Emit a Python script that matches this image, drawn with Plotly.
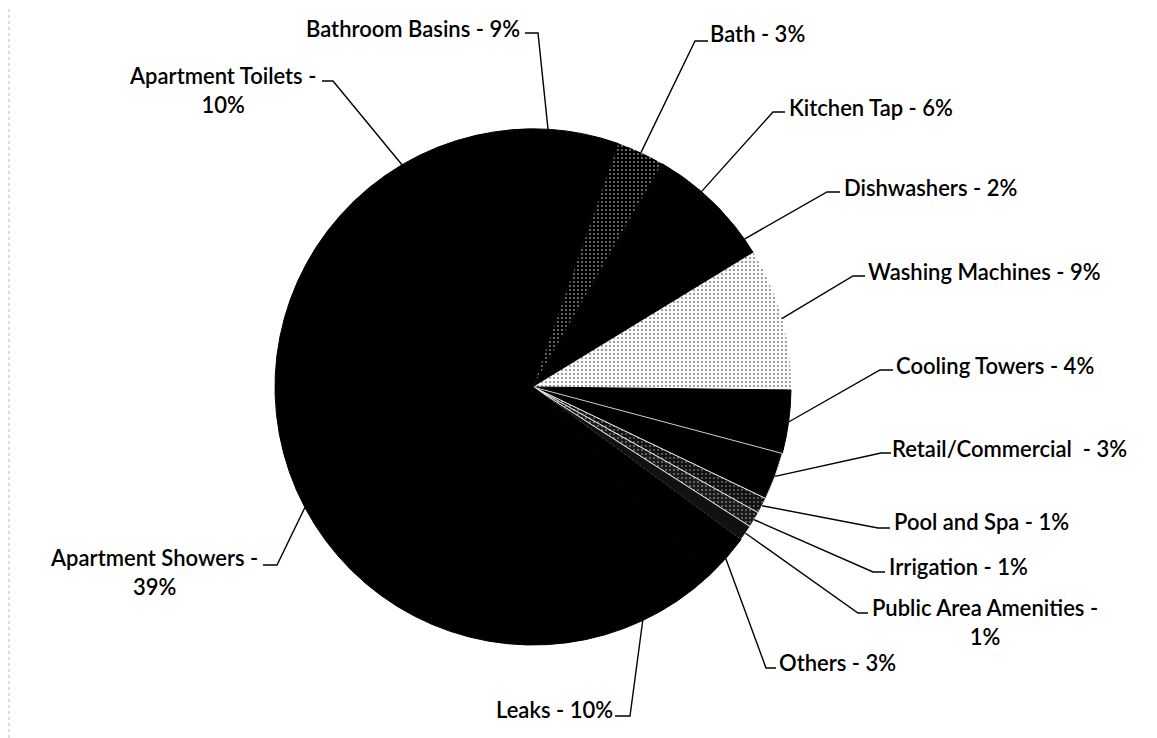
import math
import plotly.graph_objects as go

# ---------------- data ----------------
categories = ["Bathroom Basins", "Bath", "Kitchen Tap", "Dishwashers", "Washing Machines",
              "Cooling Towers", "Retail/Commercial", "Pool and Spa", "Irrigation",
              "Public Area Amenities", "Others", "Leaks", "Apartment Showers", "Apartment Toilets"]
values = [9, 3, 6, 2, 9, 4, 3, 1, 1, 1, 3, 10, 39, 10]
label_texts = ["Bathroom Basins - 9%", "Bath - 3%", "Kitchen Tap - 6%", "Dishwashers - 2%",
               "Washing Machines - 9%", "Cooling Towers - 4%", "Retail/Commercial  - 3%",
               "Pool and Spa - 1%", "Irrigation - 1%", "Public Area Amenities -<br>1%",
               "Others - 3%", "Leaks - 10%", "Apartment Showers -<br>39%", "Apartment Toilets -<br>10%"]

# ---------------- styles / layout ----------------
OFF = 8                             # page body margin in the browser
W, H = 1157 - OFF, 738 - OFF
CX, CY, R = 533, 387, 258          # pie centre / radius in window pixels
ROTATION = -12.7                   # start angle of first slice (deg, clockwise from 12 o'clock)

fill_colors = ["#000000", "#000000", "#000000", "#000000", "#fafafa", "#000000", "#000000",
               "#111111", "#1a1a1a", "#111111", "#000000", "#000000", "#000000", "#000000"]
pattern_shapes = ["", ".", "", "", ".", "", "", ".", ".", "", "", "", "", ""]
pattern_fg = ["#000", "#8a8a8a", "#000", "#000", "#7a7a7a", "#000", "#000",
              "#6a6a6a", "#7a7a7a", "#000", "#000", "#000", "#000", "#000"]
line_colors = ["#000", "#000", "#000", "#000", "#fafafa", "#000", "white",
               "white", "white", "white", "#000", "#000", "#000", "#000"]
line_widths = [1, 0, 1, 1, 0, 1, 0.8, 0.8, 0.8, 0.8, 1, 1, 1, 1]

# label placement (window pixels): anchor x, anchor y, xanchor, underline start x, elbow x, underline y
label_pos = {
    "Bathroom Basins":       (522, 28, "right", 525, 538, 33),
    "Bath":                  (708, 34, "left", 708, 695, 41),
    "Kitchen Tap":           (787, 107, "left", 785, 773, 112),
    "Dishwashers":           (842, 187, "left", 840, 827, 192),
    "Washing Machines":      (866, 271, "left", 865, 853, 276),
    "Cooling Towers":        (894, 365, "left", 893, 880, 370),
    "Retail/Commercial":     (890, 448, "left", 891, 881, 453),
    "Pool and Spa":          (892, 521, "left", 890, 878, 528),
    "Irrigation":            (887, 566, "left", 885, 873, 572),
    "Public Area Amenities": (870, 622, "left", 868, 858, 613),
    "Others":                (777, 662, "left", 776, 766, 668),
    "Leaks":                 (615, 709, "right", 615, 630, 716),
    "Apartment Showers":     (260, 572, "right", 263, 277, 565),
    "Apartment Toilets":     (318, 90, "right", 322, 333, 81),
}

def px(x):
    return (x - OFF) / W

def py(y):
    return 1 - (y - OFF) / H

fig = go.Figure()
fig.add_trace(go.Pie(
    labels=categories,
    values=values,
    sort=False,
    direction="clockwise",
    rotation=ROTATION,
    textinfo="none",
    hoverinfo="label+percent",
    marker=dict(
        colors=fill_colors,
        line=dict(color=line_colors, width=line_widths),
        pattern=dict(shape=pattern_shapes, fgcolor=pattern_fg, bgcolor=fill_colors,
                     size=4, solidity=0.18, fillmode="replace"),
    ),
    domain=dict(x=[px(CX - R), px(CX + R)], y=[py(CY + R), py(CY - R)]),
    showlegend=False,
))

# leader lines and labels
total = sum(values)
cum = 0.0
annotations = []
shapes = []
for cat, val, txt in zip(categories, values, label_texts):
    mid = ROTATION + 360.0 * (cum + val / 2) / total
    cum += val
    a = math.radians(mid)
    ex = CX + R * math.sin(a)
    ey = CY - R * math.cos(a)
    ax, ay, xa, ux, elx, uy = label_pos[cat]
    shapes.append(dict(
        type="path", xref="paper", yref="paper",
        path=f"M {px(ux)},{py(uy)} L {px(elx)},{py(uy)} L {px(ex)},{py(ey)}",
        line=dict(color="black", width=1.4),
    ))
    annotations.append(dict(
        text=txt, x=px(ax), y=py(ay), xref="paper", yref="paper",
        xanchor=xa, yanchor="middle", align="center", showarrow=False,
        font=dict(family="Lato, Open Sans, sans-serif", size=22, color="black", weight=600),
    ))

# faint dotted page edge on the left
shapes.append(dict(type="line", xref="paper", yref="paper", x0=px(9), x1=px(9), y0=0, y1=1,
                   line=dict(color="#bbbbbb", width=1, dash="dot")))

fig.update_layout(
    width=W, height=H,
    margin=dict(l=0, r=0, t=0, b=0),
    paper_bgcolor="white", plot_bgcolor="white",
    annotations=annotations, shapes=shapes,
)

fig.write_html("out.html")
